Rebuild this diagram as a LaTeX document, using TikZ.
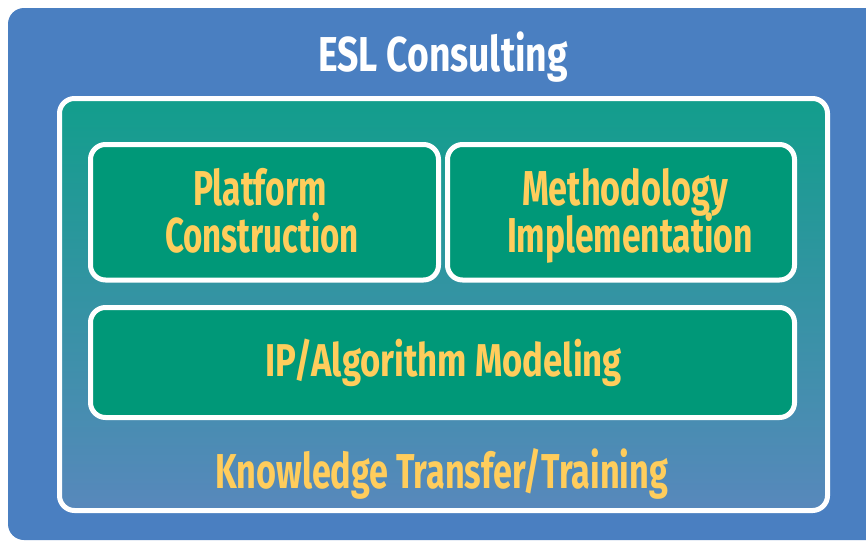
\documentclass[tikz,border=0pt]{standalone}
\usepackage{fontspec}
\setmainfont{Fira Sans}
\usepackage{graphicx}
\definecolor{outerblue}{RGB}{74,127,193}
\definecolor{panteal}{RGB}{18,158,140}
\definecolor{panblue}{RGB}{88,136,188}
\definecolor{boxgreen}{RGB}{0,152,120}
\definecolor{txtyellow}{RGB}{255,205,92}
\newlength\fitwd
\newcommand\fitto[2]{\settowidth\fitwd{#2}\pgfmathsetmacro\fitsx{#1/\fitwd}\scalebox{\fitsx}[1]{#2}}
\tikzset{
  panelbox/.style={draw=white, line width=5pt, rounded corners=15pt},
  greenbox/.style={panelbox, fill=boxgreen},
  lbl/.style={anchor=base, inner sep=0pt, font=\bfseries\fontsize{49}{53}\selectfont, text=txtyellow},
}
\begin{document}
\begin{tikzpicture}[x=1pt,y=-1pt]
\useasboundingbox (0,0) rectangle (866,544);
\clip (0,0) rectangle (866,544);
\fill[white] (0,0) rectangle (866,544);
\fill[outerblue, rounded corners=16pt] (8,8) rectangle (900,540);
\draw[panelbox, top color=panteal, bottom color=panblue] (59.5,98.5) rectangle (827.5,510.5);
\draw[greenbox] (90.5,144.5) rectangle (438.5,280) coordinate (b1);
\draw[greenbox] (447.5,144.5) rectangle (794.5,280) coordinate (b2);
\draw[greenbox] (90.5,307.5) rectangle (794.5,417.5) coordinate (b3);
\node[lbl, text=white] (title) at (443,71) {\fitto{250}{ESL Consulting}};
\node[lbl] (p1) at (260,205) {\fitto{134}{Platform}};
\node[lbl] (p2) at (262,252) {\fitto{194}{Construction}};
\node[lbl] (m1) at (625,205) {\fitto{206}{Methodology}};
\node[lbl] (m2) at (630,252) {\fitto{246}{Implementation}};
\node[lbl, font=\bfseries\fontsize{46}{50}\selectfont] (ip) at (443.5,376) {\fitto{357}{IP/Algorithm Modeling}};
\node[lbl] (kt) at (441.5,488) {\fitto{453}{Knowledge Transfer/Training}};
\end{tikzpicture}
\end{document}
